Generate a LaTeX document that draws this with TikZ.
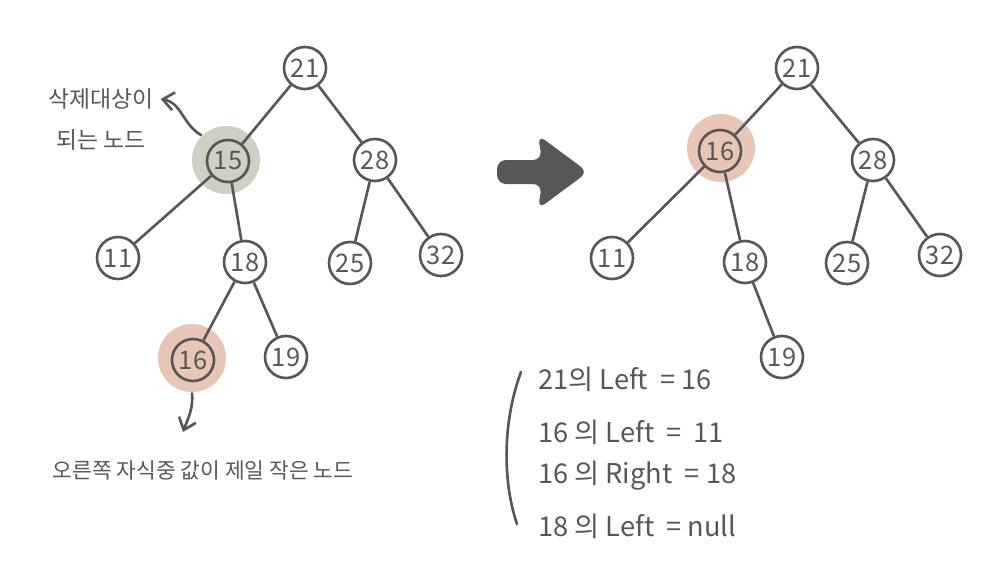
\documentclass[tikz,border=0pt]{standalone}
\usepackage{fontspec}
\setmainfont{Noto Sans CJK KR}
\usetikzlibrary{arrows.meta}
\definecolor{ink}{HTML}{575757}
\definecolor{delgray}{HTML}{CFCFC2}
\definecolor{peach}{HTML}{E8C6B5}
\begin{document}
\begin{tikzpicture}[x=0.2mm, y=-0.2mm, line width=1.5pt, draw=ink, text=ink,
		bnode/.style={draw, circle, minimum size=8.4mm, inner sep=0pt, font=\fontsize{14.5}{14.5}\selectfont},
		hilite/.style={circle, minimum size=13.6mm, inner sep=0pt},
		note/.style={font=\fontsize{13}{15}\selectfont},
		eqline/.style={anchor=west, font=\fontsize{15.5}{17}\selectfont},
		tip/.style={-{Straight Barb[length=2.2mm, width=3.6mm]}, line cap=round}]
	\useasboundingbox (0,0) rectangle (1000,585);

	% highlights
	\node[hilite, fill=delgray] (hl15) at (226,160) {};
	\node[hilite, fill=peach] (hl16) at (192,358) {};
	\node[hilite, fill=peach] (hr16) at (721,148) {};

	% left tree
	\node[bnode] (l21) at (305,68) {21};
	\node[bnode] (l15) at (228,161) {15};
	\node[bnode] (l28) at (375,160) {28};
	\node[bnode] (l11) at (118,258) {11};
	\node[bnode] (l18) at (245,262) {18};
	\node[bnode] (l25) at (350,263) {25};
	\node[bnode] (l32) at (441,255) {32};
	\node[bnode] (l16) at (193,360) {16};
	\node[bnode] (l19) at (286,357) {19};
	\draw (l21) -- (l15);
	\draw (l21) -- (l28);
	\draw (l15) -- (l11);
	\draw (l15) -- (l18);
	\draw (l28) -- (l25);
	\draw (l28) -- (l32);
	\draw (l18) -- (l16);
	\draw (l18) -- (l19);

	% labels of the left tree
	\node[note] (del1) at (101,99) {삭제대상이};
	\node[note] (del2) at (101,140) {되는 노드};
	\draw[tip] (hl15.north west) to[out=150, in=-10] (del1.east);
	\coordinate (down) at (183,432);
	\draw[tip] (hl16.south) to[out=-85, in=70] (down);
	\node[note, font=\fontsize{12.2}{14}\selectfont] (small) at (203,470) {오른쪽 자식중 값이 제일 작은 노드};

	% big arrow
	\fill[ink, rounded corners=1.8mm] (497,160) -- (542,160) -- (538,135) -- (588,172)
		-- (538,209) -- (542,184) -- (497,184) -- cycle;

	% right tree
	\node[bnode] (r21) at (797,68) {21};
	\node[bnode] (r16) at (720,151) {16};
	\node[bnode] (r28) at (873,160) {28};
	\node[bnode] (r11) at (612,258) {11};
	\node[bnode] (r18) at (745,262) {18};
	\node[bnode] (r25) at (847,263) {25};
	\node[bnode] (r32) at (940,255) {32};
	\node[bnode] (r19) at (782,357) {19};
	\draw (r21) -- (r16);
	\draw (r21) -- (r28);
	\draw (r16) -- (r11);
	\draw (r16) -- (r18);
	\draw (r28) -- (r25);
	\draw (r28) -- (r32);
	\draw (r18) -- (r19);

	% changed links
	\draw[line cap=round] (521,372) .. controls (503,420) and (502,480) .. (517,524);
	\node[eqline] (eq1) at (531,379) {21의 Left \ = 16};
	\node[eqline] (eq2) at (531,432) {16 의 Left \ = \ 11};
	\node[eqline] (eq3) at (531,476) {16 의 Right \ = 18};
	\node[eqline] (eq4) at (531,526) {18 의 Left \ = null};
\end{tikzpicture}
\end{document}
